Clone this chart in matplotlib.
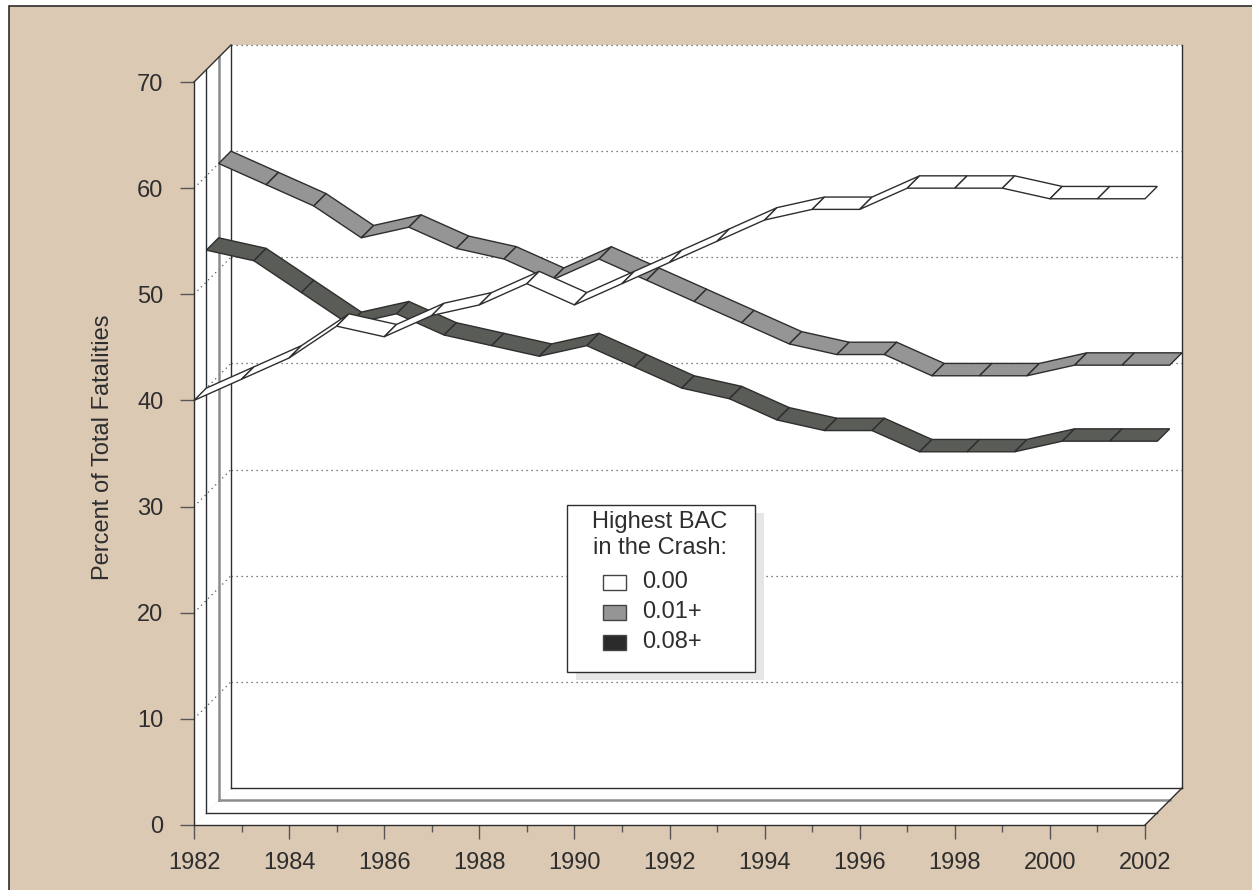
import matplotlib

matplotlib.use("Agg")
import matplotlib.pyplot as plt  # noqa: E402
from matplotlib.patches import Polygon, Rectangle  # noqa: E402

plt.rcParams["font.family"] = ["Liberation Sans", "DejaVu Sans"]

# --- data (percent of total fatalities, by highest BAC in the crash) ---
years = list(range(1982, 2003))
bac_000 = [40, 42, 44, 47, 46, 48, 49, 51, 49, 51, 53, 55, 57, 58, 58, 60, 60, 60, 59, 59, 59]
bac_001 = [60, 58, 56, 53, 54, 52, 51, 49, 51, 49, 47, 45, 43, 42, 42, 40, 40, 40, 41, 41, 41]
bac_008 = [53, 52, 49, 46, 47, 45, 44, 43, 44, 42, 40, 39, 37, 36, 36, 34, 34, 34, 35, 35, 35]
series_labels = ["0.00", "0.01+", "0.08+"]
y_ticks = [0, 10, 20, 30, 40, 50, 60, 70]
x_major = years[::2]
x_minor = years[1::2]

W, H = 1252, 890
BG = "#dcc9b4"
INK = "#2e2e2e"
TICK = "#555555"
GRAY = "#959595"
DARK = "#5a5c58"
DX, DY = 0.778, 3.486  # full depth of the 3D box, in data units
FS = 17


def ax_frac(px, py):
    """Pixel position (from top-left) -> axes fraction."""
    return px / W, 1 - py / H


fig = plt.figure(figsize=(W / 100, H / 100), dpi=100, facecolor="white")
fig.patches.append(
    Rectangle((9 / W, -0.1), 1.2, 1.1 - 6 / H, transform=fig.transFigure,
              facecolor=BG, edgecolor=INK, lw=1.2, zorder=-1)
)
ax = fig.add_axes([0, 0, 1, 1], facecolor="none")
ax.set_xlim(1977.92, 2004.25)
ax.set_ylim(-6.124, 77.727)

x_lo, x_hi, y_top = years[0], years[-1], y_ticks[-1]

# walls and floor
ax.add_patch(Rectangle((x_lo + DX, DY), x_hi - x_lo, y_top, fc="white", ec="none", zorder=1))
ax.add_patch(Polygon([(x_lo, 0), (x_lo, y_top), (x_lo + DX, y_top + DY), (x_lo + DX, DY)],
                     fc="white", ec="none", zorder=1))
ax.add_patch(Polygon([(x_lo, 0), (x_hi, 0), (x_hi + DX, DY), (x_lo + DX, DY)],
                     fc="white", ec="none", zorder=1))

# grid on the back wall and the left wall
for v in y_ticks[1:]:
    ax.plot([x_lo + DX, x_hi + DX], [v + DY, v + DY], ls=(0, (1, 3)), color="#555555",
            lw=0.9, zorder=1.5)
    if v < y_top:
        ax.plot([x_lo, x_lo + DX], [v, v + DY], ls=(0, (1, 3)), color="#555555",
                lw=0.9, zorder=1.5)

# depth separators (one slot per series)
for d, col, lw in [(1 / 3, INK, 1.0), (2 / 3, "#8c8c8c", 1.8), (1.0, INK, 1.0)]:
    ax.plot([x_lo + d * DX, x_lo + d * DX], [d * DY, y_top + d * DY], color=col, lw=lw, zorder=2)
    ax.plot([x_lo + d * DX, x_hi + d * DX], [d * DY, d * DY], color=col, lw=lw, zorder=2)
ax.plot([x_hi + DX, x_hi + DX], [DY, y_top + DY], color=INK, lw=1.0, zorder=2)
ax.plot([x_lo, x_lo + DX], [y_top, y_top + DY], color=INK, lw=1.0, zorder=2)
ax.plot([x_hi, x_hi + DX], [0, DY], color=INK, lw=1.0, zorder=2)


def draw_ribbon(values, d0, d1, face, z):
    for i in range(len(years) - 1):
        xa, xb = years[i], years[i + 1]
        va, vb = values[i], values[i + 1]
        pts = [(xa + d0 * DX, va + d0 * DY), (xb + d0 * DX, vb + d0 * DY),
               (xb + d1 * DX, vb + d1 * DY), (xa + d1 * DX, va + d1 * DY)]
        ax.add_patch(Polygon(pts, closed=True, fc=face, ec=INK, lw=1.0, zorder=z,
                             joinstyle="miter"))


# back to front: 0.01+ (back slot), 0.08+ (middle), 0.00 (front)
draw_ribbon(bac_001, 2 / 3, 1.0, GRAY, 3)
draw_ribbon(bac_008, 1 / 3, 2 / 3, DARK, 4)
draw_ribbon(bac_000, 0.0, 1 / 3, "white", 5)

# axes, ticks
for side in ("top", "right"):
    ax.spines[side].set_visible(False)
ax.spines["left"].set_position(("data", x_lo))
ax.spines["left"].set_bounds(0, y_top)
ax.spines["bottom"].set_position(("data", 0))
ax.spines["bottom"].set_bounds(x_lo, x_hi)
for side in ("left", "bottom"):
    ax.spines[side].set_color(INK)
    ax.spines[side].set_linewidth(1.0)
ax.set_xticks(x_major, [str(y) for y in x_major])
ax.set_xticks(x_minor, minor=True)
ax.set_yticks(y_ticks, [str(v) for v in y_ticks])
ax.tick_params(axis="x", which="major", direction="out", length=10, width=1, color=TICK,
               pad=9.5, labelsize=FS, labelcolor=INK)
ax.tick_params(axis="x", which="minor", direction="out", length=5, width=1, color=TICK)
ax.tick_params(axis="y", direction="out", length=10, width=1, color=TICK, pad=12,
               labelsize=FS, labelcolor=INK)

ax.text(*ax_frac(103, 447), "Percent of Total Fatalities", rotation=90, ha="center",
        va="center", fontsize=FS, color=INK, transform=ax.transAxes)

# legend box (with flat drop shadow)
bx0, by0, bx1, by1 = 567, 505, 755, 672
ax.add_patch(Rectangle(ax_frac(bx0 + 9, by1 + 8), (bx1 - bx0) / W, (by1 - by0) / H,
                       transform=ax.transAxes, fc="#e6e6e6", ec="none", zorder=8))
ax.add_patch(Rectangle(ax_frac(bx0, by1), (bx1 - bx0) / W, (by1 - by0) / H,
                       transform=ax.transAxes, fc="white", ec=INK, lw=1.0, zorder=9))
ax.text(*ax_frac(660, 535), "Highest BAC\nin the Crash:", ha="center", va="center",
        multialignment="center", linespacing=1.2, fontsize=FS, color=INK,
        transform=ax.transAxes, zorder=10)
legend_faces = ["white", GRAY, "#2a2a2a"]
for row, (lab, face) in enumerate(zip(series_labels, legend_faces)):
    cy = 582 + row * 30
    ax.add_patch(Rectangle(ax_frac(603, cy + 7.5), 23 / W, 15 / H, transform=ax.transAxes,
                           fc=face, ec="#444444", lw=1.0, zorder=10))
    ax.text(*ax_frac(642, cy), lab, ha="left", va="center", fontsize=FS, color=INK,
            transform=ax.transAxes, zorder=10)

fig.savefig("out.png", dpi=100, facecolor=fig.get_facecolor())
